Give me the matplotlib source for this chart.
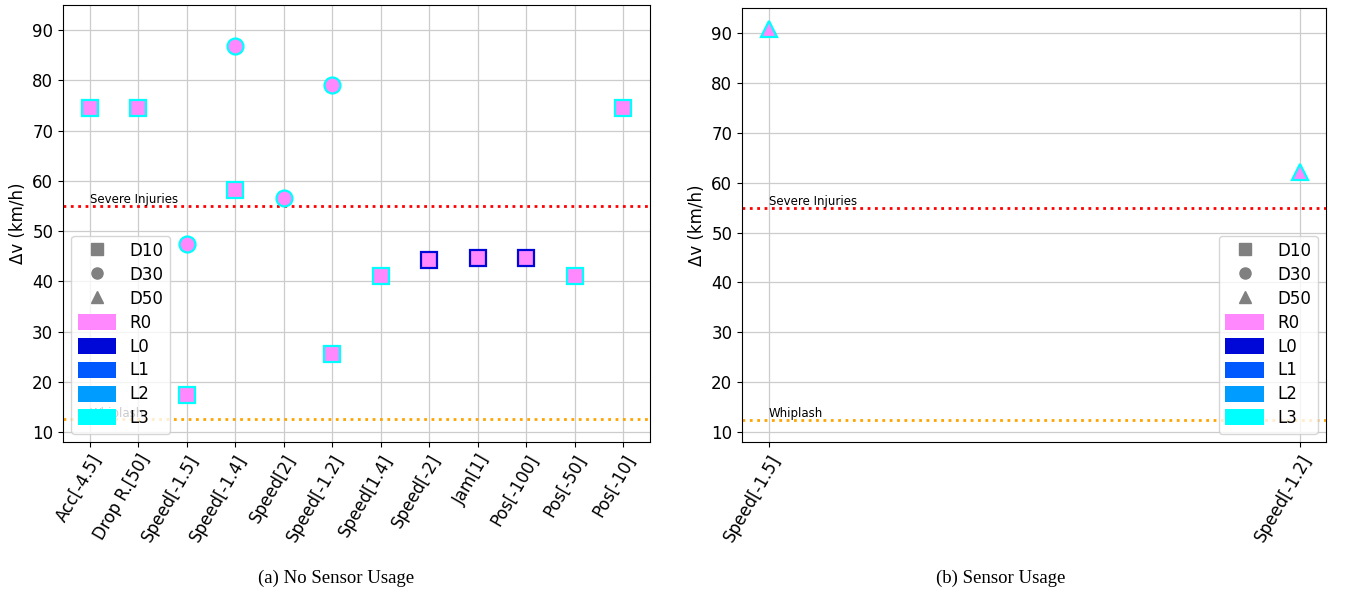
import matplotlib
matplotlib.use("Agg")
import matplotlib.pyplot as plt
from matplotlib.lines import Line2D
from matplotlib.patches import Patch

# level colours
level_colors = {
    "R0": "#ff88ff",
    "L0": "#0008d8",
    "L1": "#0058ff",
    "L2": "#009cff",
    "L3": "#00ffff",
}

# (a) no sensor usage
labels_a = ["Acc[-4.5]", "Drop R.[50]", "Speed[-1.5]", "Speed[-1.4]", "Speed[2]",
            "Speed[-1.2]", "Speed[1.4]", "Speed[-2]", "Jam[1]", "Pos[-100]",
            "Pos[-50]", "Pos[-10]"]
d10_a = [74.5, 74.5, 17.4, 58.2, None, 25.5, 41.0, 44.2, 44.7, 44.7, 41.0, 74.5]
d10_level_a = ["L3", "L3", "L3", "L3", None, "L3", "L3", "L0", "L0", "L0", "L3", "L3"]
d30_a = [None, None, 47.4, 86.9, 56.5, 79.0, None, None, None, None, None, None]
d30_level_a = [None, None, "L3", "L3", "L3", "L3", None, None, None, None, None, None]

# (b) sensor usage
labels_b = ["Speed[-1.5]", "Speed[-1.2]"]
d50_b = [90.8, 62.2]
d50_level_b = ["L3", "L3"]

severe = 55
whiplash = 12.5

fig = plt.figure(figsize=(13.46, 5.91), dpi=100)
ax_a = fig.add_axes([0.0468, 0.252, 0.4361, 0.7395])
ax_b = fig.add_axes([0.5513, 0.252, 0.4339, 0.7345])

ms = 11.5
mew = 1.6


def draw(ax, labels, series, legend_loc):
    ax.set_axisbelow(True)
    ax.grid(True, color="#cccccc", linewidth=0.9)
    ax.axhline(severe, color="red", linestyle=":", linewidth=2, zorder=2)
    ax.axhline(whiplash, color="orange", linestyle=":", linewidth=2, zorder=2)
    ax.text(0, severe + 0.5, "Severe Injuries", fontsize=8.5)
    ax.text(0, whiplash + 0.5, "Whiplash", fontsize=8.5)
    for values, levels, marker in series:
        for i, (v, lv) in enumerate(zip(values, levels)):
            if v is None:
                continue
            ax.plot(i, v, marker=marker, linestyle="none", markersize=ms,
                    markerfacecolor=level_colors["R0"],
                    markeredgecolor=level_colors[lv], markeredgewidth=mew, zorder=4)
    ax.set_xticks(range(len(labels)))
    ax.set_xticklabels(labels, rotation=60, ha="right", rotation_mode="anchor",
                       fontsize=12)
    ax.tick_params(axis="y", labelsize=12)
    ax.set_ylim(8, 95)
    ax.set_yticks([10, 20, 30, 40, 50, 60, 70, 80, 90])
    ax.set_ylabel("Δv (km/h)", fontsize=12)

    handles = [
        Line2D([], [], marker="s", color="gray", linestyle="none", markersize=8),
        Line2D([], [], marker="o", color="gray", linestyle="none", markersize=8),
        Line2D([], [], marker="^", color="gray", linestyle="none", markersize=8),
    ]
    names = ["D10", "D30", "D50"]
    for k in ["R0", "L0", "L1", "L2", "L3"]:
        handles.append(Patch(facecolor=level_colors[k], edgecolor="none"))
        names.append(k)
    ax.legend(handles, names, loc=legend_loc, fontsize=12, handlelength=2.3,
              handleheight=1.1, labelspacing=0.35, borderpad=0.4)


draw(ax_a, labels_a, [(d10_a, d10_level_a, "s"), (d30_a, d30_level_a, "o")],
     "lower left")
draw(ax_b, labels_b, [(d50_b, d50_level_b, "^")], "lower right")

fig.text(0.2497, 0.022, "(a) No Sensor Usage", ha="center", va="center",
         fontsize=13.5, family="Liberation Serif")
fig.text(0.7437, 0.022, "(b) Sensor Usage", ha="center", va="center",
         fontsize=13.5, family="Liberation Serif")

fig.savefig("out.png", dpi=100)
